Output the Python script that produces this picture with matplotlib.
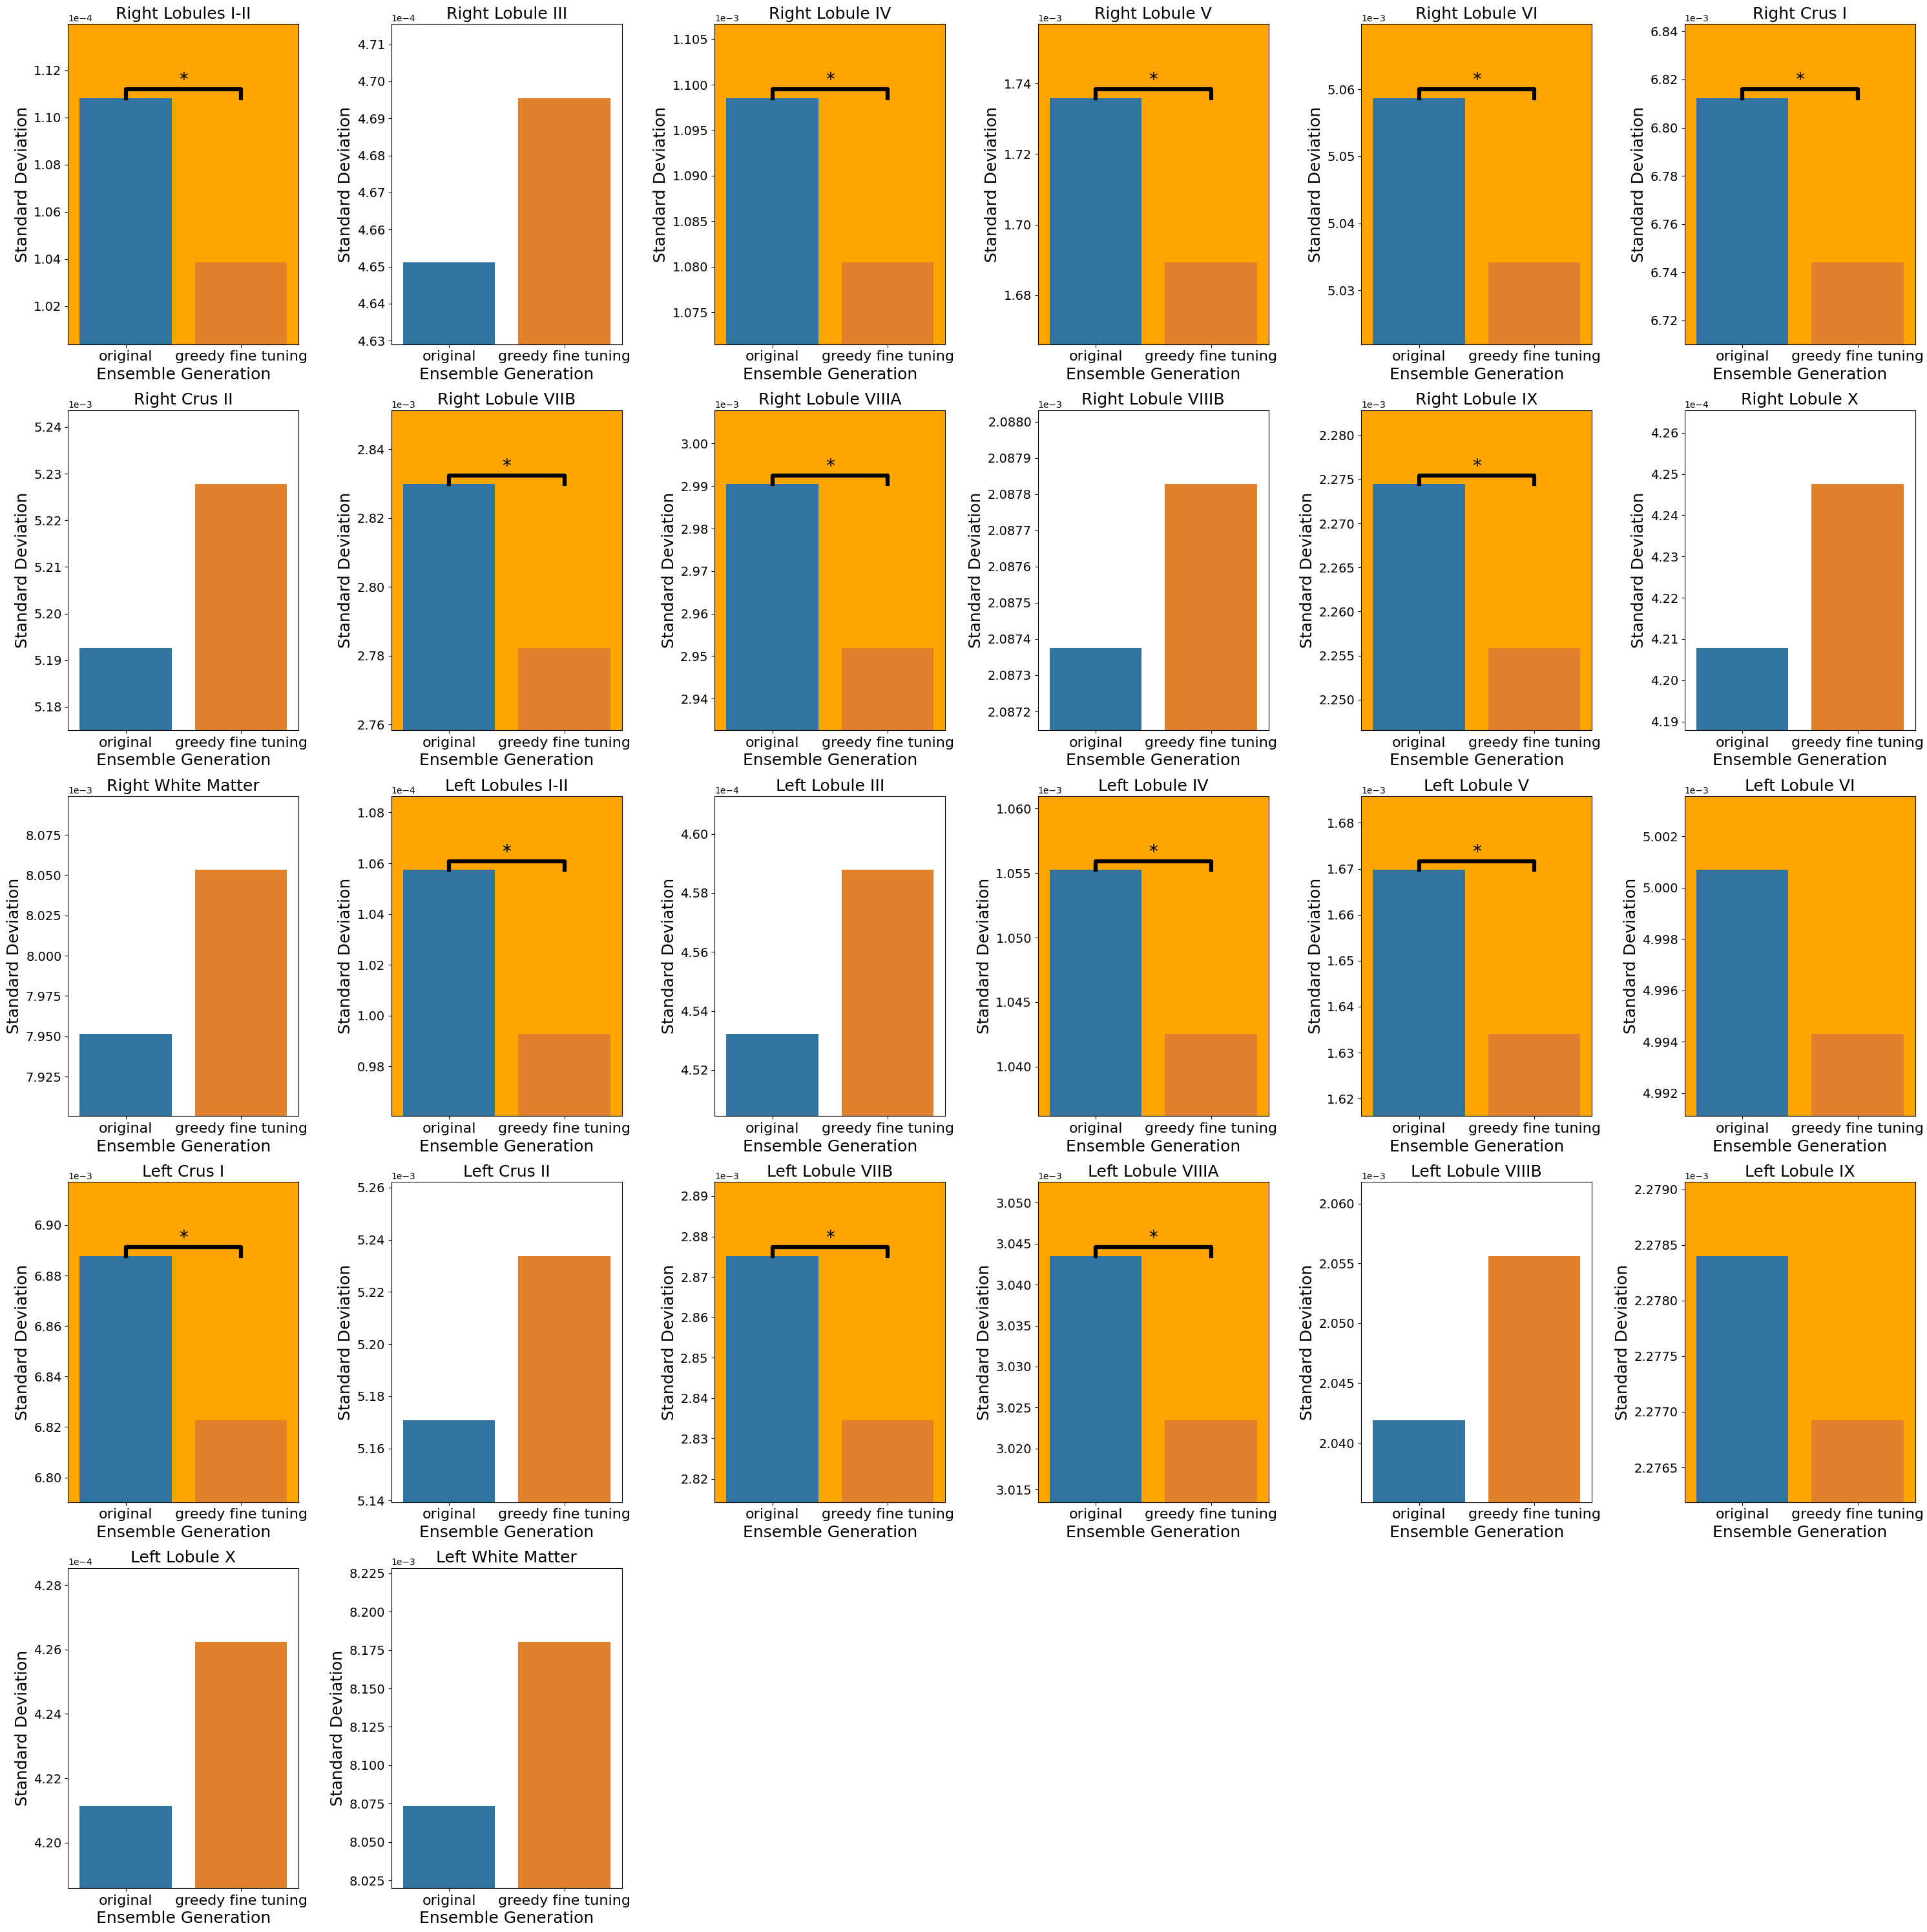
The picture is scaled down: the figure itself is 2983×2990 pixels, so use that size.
import numpy as np
import matplotlib
matplotlib.use("Agg")
import matplotlib.pyplot as plt

# regions, in plotting order (row by row)
regions = ["Right Lobules I-II", "Right Lobule III", "Right Lobule IV", "Right Lobule V",
           "Right Lobule VI", "Right Crus I", "Right Crus II", "Right Lobule VIIB",
           "Right Lobule VIIIA", "Right Lobule VIIIB", "Right Lobule IX", "Right Lobule X",
           "Right White Matter", "Left Lobules I-II", "Left Lobule III", "Left Lobule IV",
           "Left Lobule V", "Left Lobule VI", "Left Crus I", "Left Crus II",
           "Left Lobule VIIB", "Left Lobule VIIIA", "Left Lobule VIIIB", "Left Lobule IX",
           "Left Lobule X", "Left White Matter"]

# std of the original ensemble
original = [1.1083e-4, 4.6512e-4, 1.09855e-3, 1.73587e-3, 5.0587e-3, 6.8123e-3,
            5.1926e-3, 2.8299e-3, 2.9905e-3, 2.087375e-3, 2.27448e-3, 4.2078e-4,
            7.9514e-3, 1.0574e-4, 4.5322e-4, 1.055245e-3, 1.66977e-3, 5.00069e-3,
            6.8878e-3, 5.1709e-3, 2.8752e-3, 3.04351e-3, 2.04192e-3, 2.278403e-3,
            4.2114e-4, 8.0735e-3]

# std after greedy fine tuning
greedy = [1.0387e-4, 4.6955e-4, 1.0805e-3, 1.68938e-3, 5.0342e-3, 6.7442e-3,
          5.2278e-3, 2.7822e-3, 2.9519e-3, 2.087828e-3, 2.25586e-3, 4.2476e-4,
          8.0533e-3, 0.99277e-4, 4.5878e-4, 1.04253e-3, 1.63406e-3, 4.9943e-3,
          6.8228e-3, 5.2338e-3, 2.8346e-3, 3.02349e-3, 2.05564e-3, 2.276927e-3,
          4.2624e-4, 8.1804e-3]

# regions where the std went down, and where the drop was significant
improved = [True, False, True, True, True, True, False, True, True, False, True, False,
            False, True, False, True, True, True, True, False, True, True, False, True,
            False, False]
significant = [True, False, True, True, True, True, False, True, True, False, True, False,
               False, True, False, True, True, False, True, False, True, True, False, False,
               False, False]

generations = ["original", "greedy fine tuning"]
bar_colors = ["#3274a1", "#e1812c"]

fig, axes = plt.subplots(5, 6, figsize=(29.83, 29.90), dpi=100)
fig.subplots_adjust(left=0.0353, right=0.9939, top=0.9875, bottom=0.0228,
                    wspace=0.402, hspace=0.206)
axes = axes.flatten()

for i, ax in enumerate(axes):
    if i >= len(regions):
        ax.axis("off")
        continue
    vals = [original[i], greedy[i]]
    ax.bar(range(2), vals, width=0.8, color=bar_colors)
    lo, hi = min(vals), max(vals)
    d = hi - lo
    ax.set_ylim(lo - 0.5 * d, hi + 0.45 * d)
    ax.set_xlim(-0.5, 1.5)
    if improved[i]:
        ax.set_facecolor("orange")
    if significant[i]:
        top = hi + 0.053 * d
        ax.plot([0, 0, 1, 1], [hi, top, top, hi], color="black", lw=4.5)
        ax.text(0.5, top, "*", ha="center", va="bottom", fontsize=20)
    ax.set_xticks(range(2))
    ax.set_xticklabels(generations, fontsize=16)
    ax.tick_params(axis="y", labelsize=14)
    ax.ticklabel_format(axis="y", style="sci", scilimits=(0, 0))
    ax.set_title(regions[i], fontsize=18)
    ax.set_xlabel("Ensemble Generation", fontsize=18)
    ax.set_ylabel("Standard Deviation", fontsize=18)

plt.savefig("out.png", dpi=100)
